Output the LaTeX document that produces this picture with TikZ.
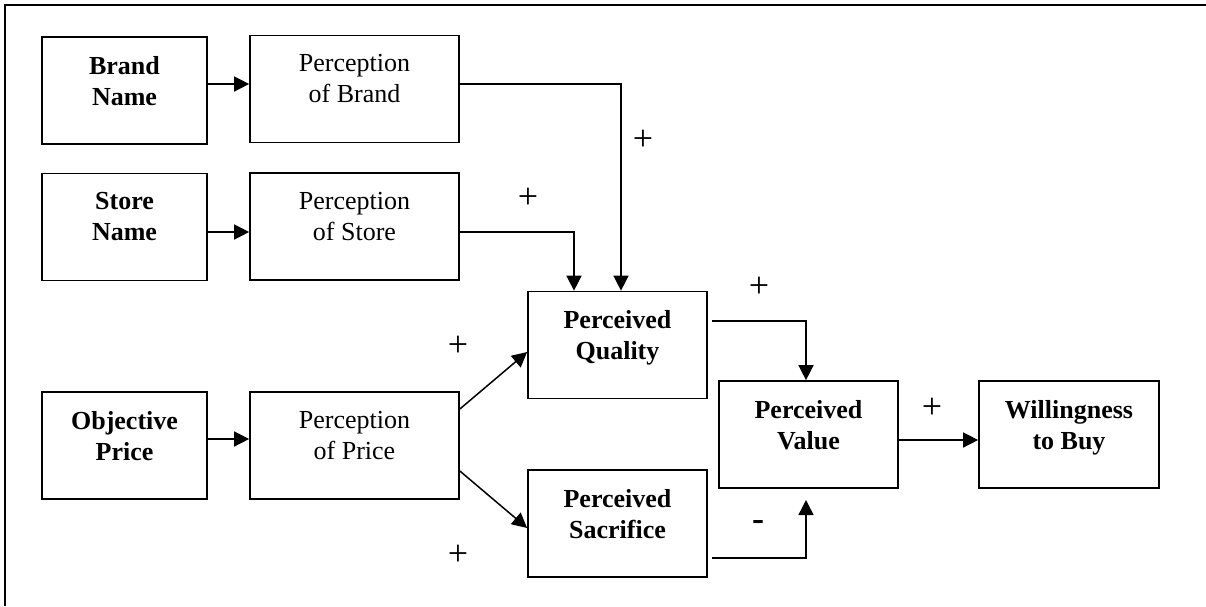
\documentclass[tikz,border=0pt]{standalone}
\usepackage{fontspec}
\setmainfont{Liberation Serif}
\usetikzlibrary{arrows.meta}
\newcommand{\boxtext}[2]{\parbox[c][53.5pt][t]{#1}{\centering\vspace*{9.5pt}#2}}
\begin{document}
\begin{tikzpicture}[x=0.5pt,y=-0.5pt,
  factor/.style={draw, line width=0.85pt, inner sep=0pt, font=\fontsize{13}{15.5}\selectfont},
  key/.style={factor, font=\fontsize{13}{15.5}\selectfont\bfseries},
  flow/.style={line width=0.75pt, -{Triangle[length=7.5pt,width=7.5pt]}},
  sign/.style={inner sep=0pt, font=\fontsize{18}{18}\selectfont}]
  \useasboundingbox (0,0) rectangle (1206,606);
  % Frame
  \draw[line width=1pt] (1206,5) -- (5,5) -- (5,606);
  % Cues
  \node[key] (brand) at (124.5,90.5) {\boxtext{82.5pt}{Brand\\Name}};
  \node[key] (store) at (124.5,227) {\boxtext{82.5pt}{Store\\Name}};
  \node[key] (objprice) at (124.5,445.5) {\boxtext{82.5pt}{Objective\\Price}};
  % Perceptions
  \node[factor] (percbrand) at (354.5,89) {\boxtext{104.5pt}{Perception\\of Brand}};
  \node[factor] (percstore) at (354.5,226.5) {\boxtext{104.5pt}{Perception\\of Store}};
  \node[factor] (percprice) at (354.5,445.5) {\boxtext{104.5pt}{Perception\\of Price}};
  % Outcomes
  \node[key] (quality) at (617.5,345) {\boxtext{89.5pt}{Perceived\\Quality}};
  \node[key] (sacrifice) at (617.5,523.5) {\boxtext{89.5pt}{Perceived\\Sacrifice}};
  \node[key] (value) at (808.5,434.5) {\boxtext{89.5pt}{Perceived\\Value}};
  \node[key] (buy) at (1069,434.5) {\boxtext{90pt}{Willingness\\to Buy}};

  % Links
  \draw[flow] (brand.east |- 0,84) -- (percbrand.west |- 0,84);
  \draw[flow] (store.east |- 0,232) -- (percstore.west |- 0,232);
  \draw[flow] (objprice.east |- 0,439) -- (percprice.west |- 0,439);
  \draw[flow] (percbrand.east |- 0,84) -| (quality.north -| 621,0);
  \draw[flow] (percstore.east |- 0,232) -| (quality.north -| 574,0);
  \draw[flow] (percprice.east |- 0,409) -- (quality.west |- 0,352);
  \draw[flow] (percprice.east |- 0,471) -- (sacrifice.west |- 0,528);
  \draw[flow] (712,321) -| (value.north -| 806,0);
  \draw[flow] (712,558) -| (806,500);
  \draw[flow] (value.east |- 0,440) -- (buy.west |- 0,440);

  % Signs
  \node[sign] (s1) at (643,140) {+};
  \node[sign] (s2) at (528,198) {+};
  \node[sign] (s3) at (759,287) {+};
  \node[sign] (s4) at (458,346) {+};
  \node[sign] (s5) at (458,555) {+};
  \node[sign, font=\fontsize{18}{18}\selectfont\bfseries] (s6) at (758,525) {-};
  \node[sign] (s7) at (932,408) {+};
\end{tikzpicture}
\end{document}
